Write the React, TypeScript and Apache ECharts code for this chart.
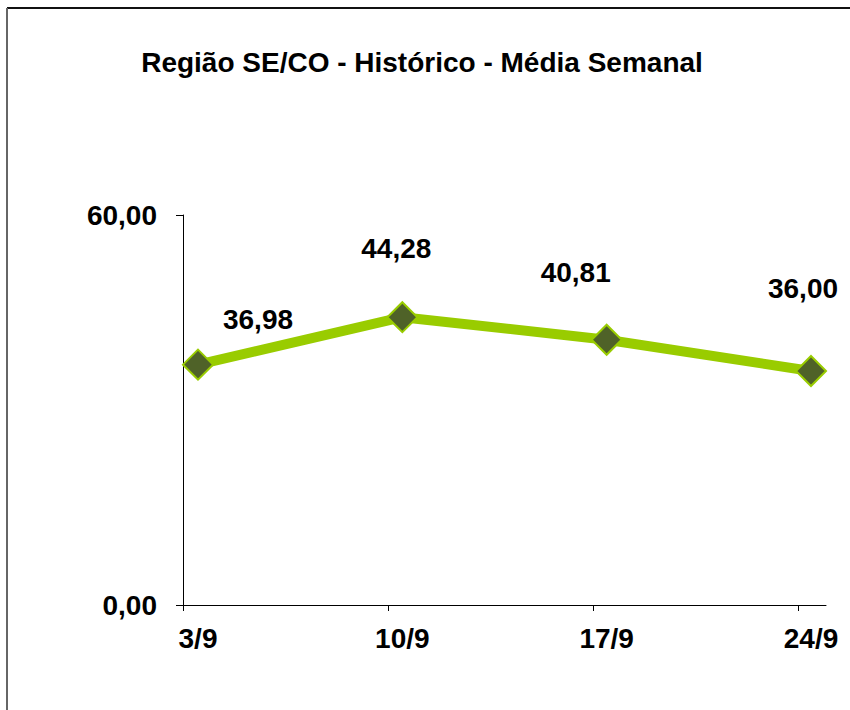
import React, { useEffect, useRef } from "react";
import * as echarts from "echarts";

const categories = ["3/9", "10/9", "17/9", "24/9"];
const values = [36.98, 44.28, 40.81, 36.0];
const yTicks = [0, 60];
const titleText = "Região SE/CO - Histórico - Média Semanal";

const labelOffsets: [number, number][] = [
  [60, -45],
  [-6, -69],
  [-31, -67],
  [-8, -83],
];

const FONT = "'Liberation Sans', Arial, sans-serif";
const FS = 28;
const fmt = (v: number) => v.toFixed(2).replace(".", ",");

export default function App() {
  const ref = useRef<HTMLDivElement>(null);
  useEffect(() => {
    if (!ref.current) return;
    const chart = echarts.init(ref.current, null, { renderer: "svg" });
    const gridTop = 215;
    const gridBottom = 105;
    chart.setOption({
      animation: false,
      backgroundColor: "#ffffff",
      graphic: [
        {
          type: "line",
          shape: { x1: 7, y1: 8, x2: 850, y2: 8 },
          style: { stroke: "#111", lineWidth: 2 },
        },
        {
          type: "line",
          shape: { x1: 7, y1: 8, x2: 7, y2: 710 },
          style: { stroke: "#666", lineWidth: 2 },
        },
        {
          type: "text",
          x: 422,
          y: 62,
          style: {
            text: titleText,
            textAlign: "center",
            textVerticalAlign: "middle",
            fontFamily: FONT,
            fontWeight: "bold",
            fontSize: FS,
            fill: "#000",
          },
        },
      ],
      grid: [
        { left: 183, right: 850 - 826, top: gridTop, bottom: gridBottom },
        { left: 198, right: 850 - 811, top: gridTop, bottom: gridBottom },
      ],
      xAxis: [
        {
          type: "value",
          gridIndex: 0,
          min: 0,
          max: 3.137,
          interval: 1,
          axisLine: { show: true, lineStyle: { color: "#000", width: 1 } },
          axisTick: {
            show: true,
            length: 6,
            customValues: [0, 1, 2, 3],
            lineStyle: { color: "#000", width: 1 },
          },
          axisLabel: { show: false },
          splitLine: { show: false },
        },
        {
          type: "category",
          gridIndex: 1,
          data: categories,
          boundaryGap: false,
          axisLine: { show: false },
          axisTick: { show: false },
          axisLabel: {
            margin: 19,
            fontFamily: FONT,
            fontWeight: "bold",
            fontSize: FS,
            color: "#000",
          },
          splitLine: { show: false },
        },
      ],
      yAxis: [
        {
          type: "value",
          gridIndex: 0,
          min: yTicks[0],
          max: yTicks[1],
          interval: yTicks[1] - yTicks[0],
          axisLine: { show: true, lineStyle: { color: "#000", width: 1 } },
          axisTick: { show: true, length: 7, lineStyle: { color: "#000" } },
          axisLabel: {
            margin: 26,
            formatter: (v: number) => fmt(v),
            fontFamily: FONT,
            fontWeight: "bold",
            fontSize: FS,
            color: "#000",
          },
          splitLine: { show: false },
        },
        {
          type: "value",
          gridIndex: 1,
          min: yTicks[0],
          max: yTicks[1],
          show: false,
        },
      ],
      series: [
        {
          type: "line",
          xAxisIndex: 1,
          yAxisIndex: 1,
          data: values.map((v, i) => ({
            value: v,
            label: { offset: labelOffsets[i] },
          })),
          lineStyle: { color: "#99cc00", width: 10 },
          symbol: "diamond",
          symbolSize: 30,
          itemStyle: { color: "#4f6228", borderColor: "#99cc00", borderWidth: 2 },
          label: {
            show: true,
            position: "inside",
            formatter: (p: any) => fmt(p.value),
            fontFamily: FONT,
            fontWeight: "bold",
            fontSize: FS,
            color: "#000",
          },
          emphasis: { disabled: true },
        },
      ],
    });
    return () => chart.dispose();
  }, []);
  return (
    <div
      ref={ref}
      style={{ position: "fixed", left: 0, top: 0, width: 850, height: 710 }}
    />
  );
}
